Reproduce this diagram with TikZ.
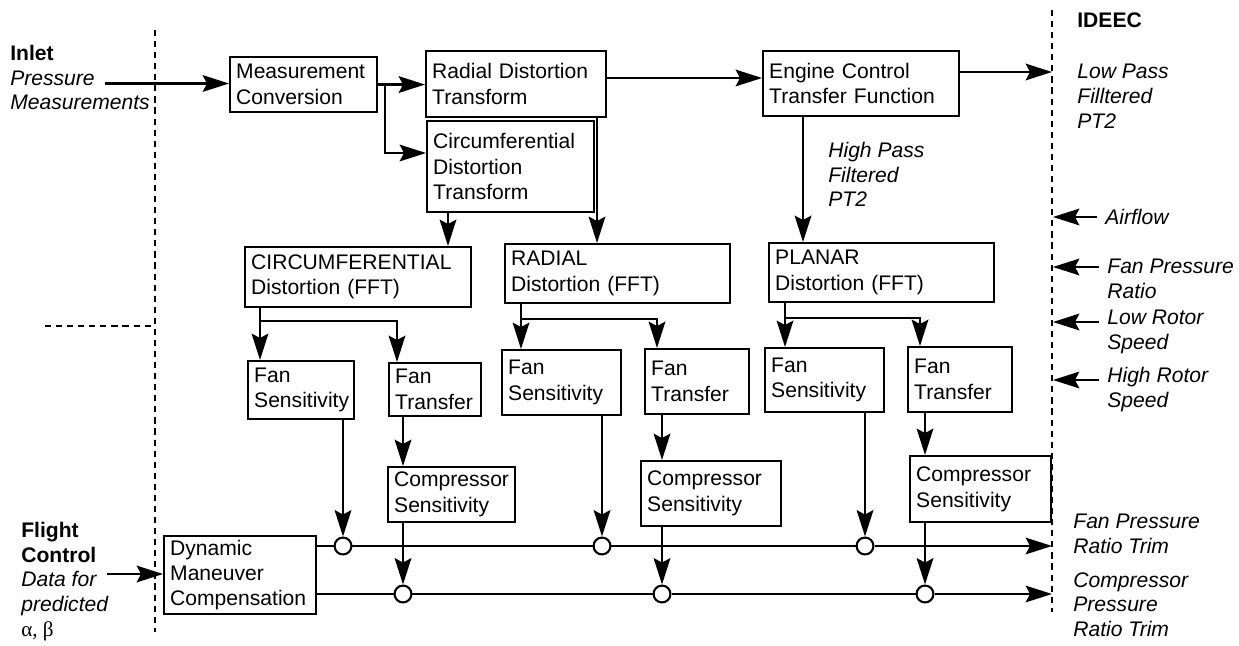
\documentclass[tikz,border=0pt]{standalone}
\usepackage{fontspec}
\setmainfont{Liberation Sans}
\newfontfamily\grk{Liberation Serif}
\usetikzlibrary{arrows.meta}
\tikzset{
  blk/.style={draw, line width=1.2pt, align=left, inner xsep=3.5pt, inner ysep=0pt, anchor=north west, font=\fontsize{12}{14.5}\selectfont},
  lbl/.style={align=left, inner sep=0pt, anchor=north west, font=\fontsize{12}{14}\selectfont},
  arr/.style={-{Stealth[length=15pt,width=9.5pt,inset=2.5pt]}, line width=1.2pt},
  sumpt/.style={circle, draw, fill=white, line width=1.2pt, minimum size=9.6pt, inner sep=0pt},
  border/.style={line width=1.4pt, dash pattern=on 3.5pt off 2.8pt}
}
\begin{document}
\begin{tikzpicture}[x=0.02cm, y=-0.02cm]
\useasboundingbox[fill=white] (0,0) rectangle (1239,645);
\draw[border] (155,30) -- (155,632);\draw[border] (45,326) -- (155,326);\draw[border] (1052,10) -- (1052,612);
% blocks
\node[blk, text width=76.6pt, minimum height=31.3pt] (meas) at (229,56) {Measurement\\Conversion};
\node[blk, text width=95.4pt, minimum height=37.6pt] (radT) at (425,50) {Radial Distortion\\Transform};
\node[blk, text width=88pt, minimum height=51.8pt] (circT) at (426,120) {Circumferential\\Distortion\\Transform};
\node[blk, text width=104.5pt, minimum height=37pt] (eng) at (762,50) {Engine Control\\Transfer Function};
\node[blk, text width=121.6pt, minimum height=34.1pt] (circF) at (244,246) {CIRCUMFERENTIAL\\Distortion (FFT)};
\node[blk, text width=121pt, minimum height=33.6pt] (radF) at (504,243) {RADIAL\\Distortion (FFT)};
\node[blk, text width=121pt, minimum height=33.6pt] (plF) at (768,242) {PLANAR\\Distortion (FFT)};
\node[blk, text width=53.3pt, minimum height=33pt] (fs1) at (247,360) {Fan\\Sensitivity};
\node[blk, text width=45.3pt, minimum height=30.2pt] (ft1) at (388,362) {Fan\\Transfer};
\node[blk, text width=60.7pt, minimum height=37pt] (fs2) at (501,349) {Fan\\Sensitivity};
\node[blk, text width=52.2pt, minimum height=37pt] (ft2) at (644,348) {Fan\\Transfer};
\node[blk, text width=60.7pt, minimum height=36.4pt] (fs3) at (764,347) {Fan\\Sensitivity};
\node[blk, text width=52.2pt, minimum height=37pt] (ft3) at (907,346) {Fan\\Transfer};
\node[blk, text width=65.3pt, minimum height=31.3pt] (cs1) at (387,466) {Compressor\\Sensitivity};
\node[blk, text width=72.7pt, minimum height=37pt] (cs2) at (640,460) {Compressor\\Sensitivity};
\node[blk, text width=73.2pt, minimum height=37.6pt] (cs3) at (909,455) {Compressor\\Sensitivity};
\node[blk, text width=79.5pt, minimum height=44.4pt] (dmc) at (163,535) {Dynamic\\Maneuver\\Compensation};
% summing points
\node[sumpt] (u1) at (343,546) {};\node[sumpt] (u2) at (602,546) {};\node[sumpt] (u3) at (865,546) {};
\node[sumpt] (l1) at (403,594) {};\node[sumpt] (l2) at (662,594) {};\node[sumpt] (l3) at (925,594) {};
% labels
\node[lbl] (inlet) at (10,45) {\textbf{Inlet}\\\textit{Pressure}\\\textit{Measurements}};
\node[lbl] (flight) at (21,522) {\textbf{Flight}\\\textbf{Control}\\\textit{Data for}\\\textit{predicted}\\{\grk α, β}};
\node[lbl] (ideec) at (1077,12) {\textbf{IDEEC}};
\node[lbl] (lowpass) at (1077,64) {\textit{Low Pass}\\\textit{Filltered}\\\textit{PT2}};
\node[lbl] (highpass) at (828,142) {\textit{High Pass}\\\textit{Filtered}\\\textit{PT2}};
\node[lbl] (airflow) at (1105,209) {\textit{Airflow}};
\node[lbl] (fpr) at (1107,259) {\textit{Fan Pressure}\\\textit{Ratio}};
\node[lbl] (lrs) at (1107,310) {\textit{Low Rotor}\\\textit{Speed}};
\node[lbl] (hrs) at (1107,367) {\textit{High Rotor}\\\textit{Speed}};
\node[lbl] (fprt) at (1073,514) {\textit{Fan Pressure}\\\textit{Ratio Trim}};
\node[lbl] (cprt) at (1073,572) {\textit{Compressor}\\\textit{Pressure}\\\textit{Ratio Trim}};
\coordinate (inletsrc) at (105,83.5);\coordinate (fltsrc) at (107,574);\coordinate (lpout) at (1052,72);
\coordinate (rin1) at (1053,217);\coordinate (rin2) at (1053,267);\coordinate (rin3) at (1053,322);\coordinate (rin4) at (1053,380);
\coordinate (fpout) at (1052,546);\coordinate (cpout) at (1052,594);
% connectors
\draw[arr] (inletsrc) -- (meas.west |- inletsrc);
\draw[arr] (meas.east) -- (radT.west |- meas.east);
\draw[arr] (meas.east -| 385,0) |- (circT.west |- 0,153);
\draw[arr] (radT.east |- 0,78) -- (eng.west |- 0,78);
\draw[arr] (eng.east |- lpout) -- (lpout);
\draw[arr] (radT.south -| 597,0) -- (radF.north -| 597,0);
\draw[arr] (circT.south -| 448,0) -- (circF.north -| 448,0);
\draw[arr] (eng.south -| 803,0) -- (plF.north -| 803,0);
\draw[arr] (circF.south -| 260,0) -- (fs1.north -| 260,0);\draw[arr] (circF.south -| 260,0) -- ++(0,13) -| (ft1.north -| 397,0);
\draw[arr] (radF.south -| 521,0) -- (fs2.north -| 521,0);\draw[arr] (radF.south -| 521,0) -- ++(0,15) -| (ft2.north -| 657,0);
\draw[arr] (plF.south -| 785,0) -- (fs3.north -| 785,0);\draw[arr] (plF.south -| 785,0) -- ++(0,15) -| (ft3.north -| 920,0);
\draw[arr] (fs1.south -| u1) -- (u1);\draw[arr] (fs2.south -| u2) -- (u2);\draw[arr] (fs3.south -| u3) -- (u3);
\draw[arr] (ft1.south -| l1) -- (cs1.north -| l1);\draw[arr] (ft2.south -| l2) -- (cs2.north -| l2);\draw[arr] (ft3.south -| l3) -- (cs3.north -| l3);
\draw[arr] (cs1.south -| l1) -- (l1);\draw[arr] (cs2.south -| l2) -- (l2);\draw[arr] (cs3.south -| l3) -- (l3);
\draw[line width=1.2pt] (dmc.east |- u1) -- (u1) (u1) -- (u2) (u2) -- (u3);\draw[arr] (u3) -- (fpout);
\draw[line width=1.2pt] (dmc.east |- l1) -- (l1) (l1) -- (l2) (l2) -- (l3);\draw[arr] (l3) -- (cpout);
\draw[arr] (fltsrc) -- (dmc.west |- fltsrc);
\draw[arr] ([xshift=-4.5pt]airflow.west |- rin1) -- (rin1);\draw[arr] ([xshift=-4.5pt]fpr.west |- rin2) -- (rin2);
\draw[arr] ([xshift=-4.5pt]lrs.west |- rin3) -- (rin3);\draw[arr] ([xshift=-4.5pt]hrs.west |- rin4) -- (rin4);
\end{tikzpicture}
\end{document}
